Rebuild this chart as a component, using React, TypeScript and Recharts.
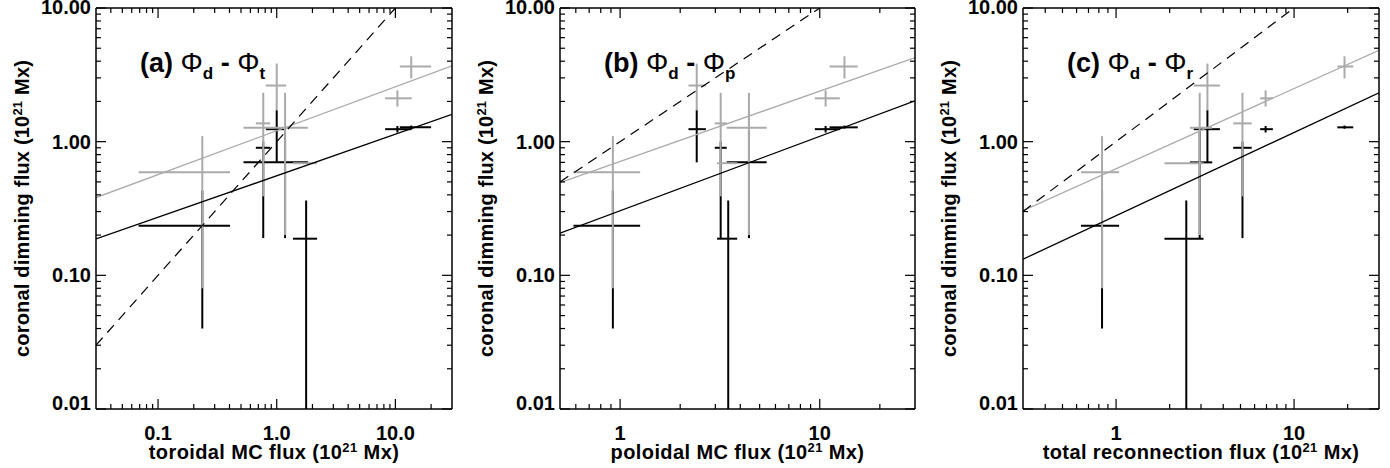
import React from 'react';
import { ComposedChart, Scatter, Line, XAxis, YAxis, ErrorBar } from 'recharts';

const FONT = '"Liberation Sans", Arial, Helvetica, sans-serif';
const GRAY = '#aaaaaa';
const H = 468;
const PLOT_TOP = 8;
const PLOT_BOTTOM = 409;

// coronal dimming flux (10^21 Mx) of the seven events, shared by the three panels
const dimBlack = [0.235, 0.188, 0.7, 0.9, 1.24, 1.24, 1.28];
const dimBlackLo = [0.04, 0.01, 0.19, 0.19, 0.7, 1.17, 1.25];
const dimBlackHi = [0.43, 0.363, 1.2, 1.0, 1.72, 1.31, 1.32];
const dimGray = [0.59, 0.69, 1.27, 1.37, 2.63, 2.11, 3.65];
const dimGrayLo = [0.08, 0.69, 0.2, 0.39, 1.72, 1.83, 2.97];
const dimGrayHi = [1.1, 0.69, 2.32, 2.32, 3.84, 2.42, 4.35];

// toroidal MC flux
const torX = [0.236, 1.77, 1.176, 0.77, 1.0, 10.4, 13.6];
const torLo = [0.0685, 1.37, 0.525, 0.667, 0.81, 8.2, 10.9];
const torHi = [0.404, 2.19, 1.83, 0.883, 1.2, 13.7, 20.0];

// poloidal MC flux
const polX = [0.92, 3.48, 4.42, 3.19, 2.42, 10.7, 13.3];
const polLo = [0.584, 3.06, 3.42, 2.98, 2.2, 9.45, 11.2];
const polHi = [1.26, 3.86, 5.42, 3.42, 2.69, 12.6, 15.5];

// total reconnection flux
const recX = [0.834, 2.48, 2.95, 5.13, 3.26, 6.92, 19.2];
const recLo = [0.635, 1.87, 2.6, 4.55, 2.73, 6.45, 17.5];
const recHi = [1.04, 3.1, 3.47, 5.78, 3.83, 7.6, 21.5];

// fitted lines and 1:1 line (end points)
const torFitBlack = [{ x: 0.03, y: 0.187 }, { x: 30, y: 1.6 }];
const torFitGray = [{ x: 0.03, y: 0.382 }, { x: 30, y: 3.69 }];
const torEqual = [{ x: 0.03, y: 0.03 }, { x: 10, y: 10 }];
const polFitBlack = [{ x: 0.5, y: 0.207 }, { x: 30, y: 2.02 }];
const polFitGray = [{ x: 0.5, y: 0.494 }, { x: 30, y: 4.26 }];
const polEqual = [{ x: 0.5, y: 0.5 }, { x: 10, y: 10 }];
const recFitBlack = [{ x: 0.3, y: 0.132 }, { x: 30, y: 2.32 }];
const recFitGray = [{ x: 0.3, y: 0.305 }, { x: 30, y: 4.83 }];
const recEqual = [{ x: 0.3, y: 0.3 }, { x: 10, y: 10 }];

// ticks
const yTicks = [0.01, 0.02, 0.03, 0.04, 0.05, 0.06, 0.07, 0.08, 0.09, 0.1, 0.2, 0.3, 0.4, 0.5, 0.6, 0.7, 0.8, 0.9, 1, 2, 3, 4, 5, 6, 7, 8, 9, 10];
const yMajor = [0.01, 0.1, 1, 10];
const yLabels = ['0.01', '0.10', '1.00', '10.00'];

const torTicks = [0.04, 0.05, 0.06, 0.07, 0.08, 0.09, 0.1, 0.2, 0.3, 0.4, 0.5, 0.6, 0.7, 0.8, 0.9, 1, 2, 3, 4, 5, 6, 7, 8, 9, 10, 20];
const torMajor = [0.1, 1, 10];
const torLabels = ['0.1', '1.0', '10.0'];
const polTicks = [0.6, 0.7, 0.8, 0.9, 1, 2, 3, 4, 5, 6, 7, 8, 9, 10, 20];
const polMajor = [1, 10];
const polLabels = ['1', '10'];
const recTicks = [0.4, 0.5, 0.6, 0.7, 0.8, 0.9, 1, 2, 3, 4, 5, 6, 7, 8, 9, 10, 20];
const recMajor = [1, 10];
const recLabels = ['1', '10'];

type Side = 'bottom' | 'top' | 'left' | 'right';
const near = (a: number, b: number) => Math.abs(Math.log10(a) - Math.log10(b)) < 1e-6;

function tickRenderer(side: Side, majors: number[], labels: string[] | null) {
  return (props: any) => {
    const { x, y, payload } = props;
    const v = payload.value;
    const mi = majors.findIndex((m) => near(m, v));
    const len = mi >= 0 ? 10 : 5;
    let x2 = x;
    let y2 = y;
    if (side === 'bottom') y2 = y - len;
    if (side === 'top') y2 = y + len;
    if (side === 'left') x2 = x + len;
    if (side === 'right') x2 = x - len;
    let label: React.ReactNode = null;
    if (labels && mi >= 0) {
      if (side === 'bottom') {
        label = (
          <text x={x} y={y + 31} textAnchor="middle" fontFamily={FONT} fontSize={20} fontWeight="bold" fill="#000">
            {labels[mi]}
          </text>
        );
      } else if (side === 'left') {
        const dy = mi === 0 ? 1 : mi === majors.length - 1 ? 6 : 7;
        label = (
          <text x={x - 5} y={y + dy} textAnchor="end" fontFamily={FONT} fontSize={20} fontWeight="bold" fill="#000">
            {labels[mi]}
          </text>
        );
      }
    }
    return (
      <g>
        <line x1={x} y1={y} x2={x2} y2={y2} stroke="#000" strokeWidth={1.2} />
        {label}
      </g>
    );
  };
}

function buildPoints(xs: number[], lo: number[], hi: number[], ys: number[], ylo: number[], yhi: number[]) {
  return xs.map((x, i) => ({
    x,
    y: ys[i],
    ex: [x - lo[i], hi[i] - x],
    ey: [ys[i] - ylo[i], yhi[i] - ys[i]],
  }));
}

const noShape = () => <g />;

type PanelProps = {
  left: number;
  width: number;
  plotL: number;
  plotR: number;
  domain: [number, number];
  ticks: number[];
  majors: number[];
  labels: string[];
  xs: number[];
  lo: number[];
  hi: number[];
  fitBlack: { x: number; y: number }[];
  fitGray: { x: number; y: number }[];
  equal: { x: number; y: number }[];
  title: string;
  tag: string;
  sub: string;
};

function Panel(p: PanelProps) {
  const black = buildPoints(p.xs, p.lo, p.hi, dimBlack, dimBlackLo, dimBlackHi);
  const gray = buildPoints(p.xs, p.lo, p.hi, dimGray, dimGrayLo, dimGrayHi);
  const axisLine = { stroke: '#000', strokeWidth: 1.5 };
  return (
    <div style={{ position: 'absolute', left: p.left, top: 0, width: p.width, height: H }}>
      <ComposedChart
        width={p.width}
        height={H}
        margin={{ top: PLOT_TOP - 1, bottom: 0, left: 0, right: p.width - p.plotR - 1 }}
      >
        <XAxis
          xAxisId="b"
          type="number"
          dataKey="x"
          scale="log"
          domain={p.domain}
          allowDataOverflow
          ticks={p.ticks}
          interval={0}
          orientation="bottom"
          height={H - PLOT_BOTTOM}
          tickSize={0}
          tickMargin={0}
          tickLine={false}
          axisLine={axisLine}
          tick={tickRenderer('bottom', p.majors, p.labels)}
        />
        <XAxis
          xAxisId="t"
          type="number"
          dataKey="x"
          scale="log"
          domain={p.domain}
          allowDataOverflow
          ticks={p.ticks}
          interval={0}
          orientation="top"
          height={1}
          tickSize={0}
          tickMargin={0}
          tickLine={false}
          axisLine={axisLine}
          tick={tickRenderer('top', p.majors, null)}
        />
        <YAxis
          yAxisId="l"
          type="number"
          dataKey="y"
          scale="log"
          domain={[0.01, 10]}
          allowDataOverflow
          ticks={yTicks}
          interval={0}
          orientation="left"
          width={p.plotL}
          tickSize={0}
          tickMargin={0}
          tickLine={false}
          axisLine={axisLine}
          tick={tickRenderer('left', yMajor, yLabels)}
        />
        <YAxis
          yAxisId="r"
          type="number"
          dataKey="y"
          scale="log"
          domain={[0.01, 10]}
          allowDataOverflow
          ticks={yTicks}
          interval={0}
          orientation="right"
          width={1}
          tickSize={0}
          tickMargin={0}
          tickLine={false}
          axisLine={axisLine}
          tick={tickRenderer('right', yMajor, null)}
        />
        <Scatter data={black} xAxisId="b" yAxisId="l" shape={noShape} isAnimationActive={false}>
          <ErrorBar dataKey="ex" direction="x" width={0} stroke="#000" strokeWidth={2} isAnimationActive={false} />
          <ErrorBar dataKey="ey" direction="y" width={0} stroke="#000" strokeWidth={2} isAnimationActive={false} />
        </Scatter>
        <Scatter data={gray} xAxisId="b" yAxisId="l" shape={noShape} isAnimationActive={false}>
          <ErrorBar dataKey="ex" direction="x" width={0} stroke={GRAY} strokeWidth={2} isAnimationActive={false} />
          <ErrorBar dataKey="ey" direction="y" width={0} stroke={GRAY} strokeWidth={2} isAnimationActive={false} />
        </Scatter>
        <Line data={p.fitGray} dataKey="y" xAxisId="b" yAxisId="l" type="linear" stroke={GRAY} strokeWidth={1.3} dot={false} activeDot={false} isAnimationActive={false} />
        <Line data={p.fitBlack} dataKey="y" xAxisId="b" yAxisId="l" type="linear" stroke="#000" strokeWidth={1.3} dot={false} activeDot={false} isAnimationActive={false} />
        <Line data={p.equal} dataKey="y" xAxisId="b" yAxisId="l" type="linear" stroke="#000" strokeWidth={1.2} strokeDasharray="10 7" dot={false} activeDot={false} isAnimationActive={false} />
      </ComposedChart>
      <svg width={p.width} height={H} style={{ position: 'absolute', left: 0, top: 0, pointerEvents: 'none' }}>
        <text
          transform={`translate(${p.plotL - 67},${(PLOT_TOP + PLOT_BOTTOM) / 2}) rotate(-90)`}
          textAnchor="middle"
          fontFamily={FONT}
          fontSize={20}
          fontWeight="bold"
          letterSpacing={0.2}
          fill="#000"
        >
          coronal dimming flux (10
          <tspan fontSize={13} dy={-7}>21</tspan>
          <tspan dy={7}> Mx)</tspan>
        </text>
        <text x={(p.plotL + p.plotR) / 2} y={459} textAnchor="middle" fontFamily={FONT} fontSize={20} fontWeight="bold" letterSpacing={0.4} fill="#000">
          {p.title} (10
          <tspan fontSize={13} dy={-7}>21</tspan>
          <tspan dy={7}> Mx)</tspan>
        </text>
        <text x={p.plotL + 44} y={72} fontFamily={FONT} fontSize={27} fontWeight="bold" fill="#000">
          {`(${p.tag}) `}
          <tspan fontWeight="normal" fontSize={28}>Φ</tspan>
          <tspan fontSize={17} dy={7}>d</tspan>
          <tspan dy={-7}>{' - '}</tspan>
          <tspan fontWeight="normal" fontSize={28}>Φ</tspan>
          <tspan fontSize={17} dy={7}>{p.sub}</tspan>
        </text>
      </svg>
    </div>
  );
}

export default function App() {
  return (
    <div style={{ position: 'absolute', left: 0, top: 0, width: 1390, height: H, background: '#fff' }}>
      <Panel
        left={0}
        width={465}
        plotL={96}
        plotR={452}
        domain={[0.03, 30]}
        ticks={torTicks}
        majors={torMajor}
        labels={torLabels}
        xs={torX}
        lo={torLo}
        hi={torHi}
        fitBlack={torFitBlack}
        fitGray={torFitGray}
        equal={torEqual}
        title="toroidal MC flux"
        tag="a"
        sub="t"
      />
      <Panel
        left={465}
        width={460}
        plotL={95}
        plotR={450}
        domain={[0.5, 30]}
        ticks={polTicks}
        majors={polMajor}
        labels={polLabels}
        xs={polX}
        lo={polLo}
        hi={polHi}
        fitBlack={polFitBlack}
        fitGray={polFitGray}
        equal={polEqual}
        title="poloidal MC flux"
        tag="b"
        sub="p"
      />
      <Panel
        left={925}
        width={465}
        plotL={98}
        plotR={454}
        domain={[0.3, 30]}
        ticks={recTicks}
        majors={recMajor}
        labels={recLabels}
        xs={recX}
        lo={recLo}
        hi={recHi}
        fitBlack={recFitBlack}
        fitGray={recFitGray}
        equal={recEqual}
        title="total reconnection flux"
        tag="c"
        sub="r"
      />
    </div>
  );
}
